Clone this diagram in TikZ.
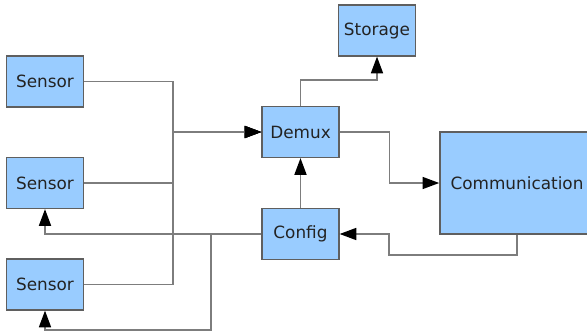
\documentclass[tikz,border=0pt]{standalone}
\usepackage{fontspec}
\setmainfont{DejaVu Sans}
\usetikzlibrary{arrows.meta}
\definecolor{boxBlue}{RGB}{153,204,255}
\definecolor{boxEdge}{RGB}{95,95,95}
\definecolor{wireGray}{RGB}{125,125,125}
\definecolor{labelInk}{RGB}{35,35,35}

\begin{document}
\begin{tikzpicture}[x=0.03cm,y=-0.03cm,
    block/.style={draw=boxEdge,fill=boxBlue,line width=1.3pt,
      minimum width=2.3cm,minimum height=1.52cm,inner sep=0pt,
      text=labelInk,font=\fontsize{14.4}{17}\selectfont},
    wire/.style={draw=wireGray,line width=1.3pt,
      -{Triangle[length=0.5cm,width=0.36cm,color=black]}}]
  \useasboundingbox (0,0) rectangle (587,333);
  % the three sensors on the left
  \foreach \y/\name in {81.5/s1,183/s2,284.5/s3}
    \node[block] (\name) at (45,\y) {Sensor};
  \node[block] (demux) at (300.5,132) {Demux};
  \node[block] (storage) at (377,30.5) {Storage};
  \node[block] (config) at (300.5,234) {Config};
  \node[block,minimum width=4.62cm,minimum height=3.06cm]
    (comm) at (517,183) {Communication};
  % bends of the wires
  \coordinate (bus) at (173,132);
  \coordinate (low) at (211,330);
  \coordinate (back) at (389,234);
  % sensors into the demux
  \foreach \name in {s1,s2,s3}
    \draw[wire] (\name.east) -| (bus) -- (demux.west);
  \draw[wire] (demux.north) -- ++(0,-26) -| (storage.south);
  \draw[wire] (demux.east) -- ++(50,0) |- (comm.west);
  \draw[wire] (config.north) -- (demux.south);
  \draw[wire] (comm.south) -- ++(0,20) -| (back) -- (config.east);
  % config back to the sensors
  \draw[wire] (config.west) -| (s2.south);
  \draw[wire] (config.west) -| (low) -| (s3.south);
\end{tikzpicture}
\end{document}
